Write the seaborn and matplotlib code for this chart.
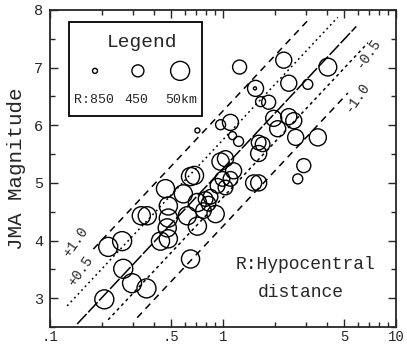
import numpy as np
import pandas as pd
import matplotlib
matplotlib.use("Agg")
import matplotlib.pyplot as plt
from matplotlib.patches import Rectangle
from matplotlib.ticker import FixedLocator, NullFormatter
import seaborn as sns

# ---------------- data ----------------
x_vals = [0.206, 0.217, 0.261, 0.265, 0.298, 0.361,
          0.337, 0.365, 0.435, 0.483, 0.465, 0.483, 0.483, 0.476,
          0.590, 0.622, 0.711, 0.711, 0.649, 0.649, 0.684,
          0.793, 0.847, 0.824, 0.771, 0.906, 0.968, 1.033,
          0.993, 1.104, 0.929, 1.033, 1.151, 1.503, 1.607,
          1.247, 2.244, 4.036, 2.399, 3.090, 1.542, 1.530, 1.648, 1.836,
          0.968, 1.104, 0.711, 1.135, 1.230, 1.963, 2.070, 2.399, 2.564,
          2.630, 3.532, 1.607, 1.694, 1.607, 2.930, 2.704]
magnitudes = [2.98, 3.89, 3.99, 3.51, 3.26, 3.17,
              4.43, 4.43, 3.99, 4.03, 4.90, 4.60, 4.39, 4.22,
              4.81, 4.43, 4.66, 4.25, 3.68, 5.11, 5.13,
              4.72, 4.76, 4.64, 4.52, 4.46, 5.37, 5.42,
              5.07, 5.07, 4.95, 4.92, 5.21, 5.00, 5.00,
              7.01, 7.13, 7.01, 6.73, 6.71, 6.64, 6.64, 6.41, 6.40,
              6.01, 6.05, 5.91, 5.82, 5.72, 6.12, 5.94, 6.15, 6.08,
              5.79, 5.79, 5.70, 5.67, 5.51, 5.30, 5.07]
distances_km = [50, 50, 50, 50, 50, 50,
                100, 100, 100, 100, 100, 100, 100, 100,
                100, 100, 100, 100, 100, 100, 100,
                300, 300, 300, 250, 150, 150, 220,
                300, 300, 300, 300, 220, 220, 220,
                336, 220, 120, 220, 565, 220, 960, 565, 336,
                565, 220, 850, 680, 565, 220, 220, 220, 220,
                220, 160, 300, 300, 220, 336, 565]

legend_distances = [850, 450, 50]
legend_labels = ["R:850", "450", "50km"]

# reference relation M = a + b*log10(x) and offsets
rel_a = 5.25
rel_b = 3.2
line_offsets = [0.0, 0.5, -0.5, 1.0, -1.0]
line_x_start = [0.1436, 0.1256, 0.2168, 0.178, 0.319]
line_x_end = [5.89, 4.61, 6.89, 3.21, 5.27]
line_label_text = ["", "+0.5", "-0.5", "+1.0", "-1.0"]

x_ticks = [0.1, 0.5, 1, 5, 10]
x_tick_labels = [".1", ".5", "1", "5", "10"]
y_ticks = [3, 4, 5, 6, 7, 8]

# ---------------- style ----------------
sns.set_style("ticks")
plt.rcParams['font.family'] = ['Liberation Mono', 'DejaVu Sans Mono']

DPI = 100
fig = plt.figure(figsize=(4.07, 3.46), dpi=DPI)
ax = fig.add_axes([0.1229, 0.0549, 0.8501, 0.9162])


def marker_area(R):
    r_px = 9.94 - 0.00875 * R
    d_pt = 2 * r_px * 72.0 / DPI
    return d_pt ** 2


df = pd.DataFrame({"x": x_vals, "M": magnitudes, "R": distances_km})
sizes = {R: marker_area(R) for R in sorted(set(distances_km))}

sns.scatterplot(data=df, x="x", y="M", size="R", sizes=sizes,
                facecolors="none", edgecolor="black", linewidth=1.0,
                legend=False, ax=ax, zorder=3)

# reference lines
styles = {0.0: (0, (9, 1.5)), 0.5: (0, (1.2, 2.2)), -0.5: (0, (2, 2.2)),
          1.0: (0, (4.5, 3.5)), -1.0: (0, (4.5, 3.5))}
for off, xs, xe in zip(line_offsets, line_x_start, line_x_end):
    xx = np.array([xs, xe])
    yy = rel_a + rel_b * np.log10(xx) + off
    ax.plot(xx, yy, color="black", lw=1.1, linestyle=styles[off], zorder=2)

ax.set_xscale("log")
ax.set_xlim(0.1, 10)
ax.set_ylim(2.5, 8)

ax.xaxis.set_major_locator(FixedLocator(x_ticks))
ax.set_xticklabels(x_tick_labels)
minor_x = [v * d for d in (0.1, 1) for v in range(2, 10)]
ax.xaxis.set_minor_locator(FixedLocator(minor_x))
ax.xaxis.set_minor_formatter(NullFormatter())
ax.set_yticks(y_ticks)
ax.set_yticklabels([str(v) for v in y_ticks])
ax.yaxis.set_minor_locator(FixedLocator(np.arange(2.5, 8.0, 0.5)))

ax.tick_params(which="both", direction="in", top=True, right=True,
               labelsize=11, width=1.0, pad=5)
ax.tick_params(axis="x", which="major", labelsize=10, pad=2)
ax.tick_params(which="major", length=6)
ax.tick_params(which="minor", length=3.5)
for sp in ax.spines.values():
    sp.set_linewidth(1.3)
    sp.set_visible(True)

ax.set_xlabel("")
ax.set_ylabel("JMA Magnitude", fontsize=15, labelpad=6)

# line labels
lab_pos = {"+1.0": (0.075, 0.268), "+0.5": (0.087, 0.177),
           "-0.5": (0.919, 0.864), "-1.0": (0.887, 0.726)}
for t in line_label_text:
    if t:
        px, py = lab_pos[t]
        ax.text(px, py, t, transform=ax.transAxes, rotation=55,
                ha="center", va="center", fontsize=10)

# legend box
ax.add_patch(Rectangle((0.055, 0.666), 0.384, 0.296, transform=ax.transAxes,
                       facecolor="white", edgecolor="black", lw=1.3, zorder=4))
ax.text(0.266, 0.896, "Legend", transform=ax.transAxes, ha="center",
        va="center", fontsize=14, zorder=5)
leg_x = [0.130, 0.254, 0.376]
ax.scatter(leg_x, [0.808] * 3, s=[marker_area(R) for R in legend_distances],
           facecolors="none", edgecolors="black", linewidths=1.0,
           transform=ax.transAxes, zorder=5, clip_on=False)
lab_x = [0.128, 0.251, 0.380]
for lx, t in zip(lab_x, legend_labels):
    ax.text(lx, 0.716, t, transform=ax.transAxes, ha="center", va="center",
            fontsize=9.5, zorder=5)

ax.text(0.737, 0.196, "R:Hypocentral", transform=ax.transAxes,
        ha="center", va="center", fontsize=13)
ax.text(0.725, 0.110, "distance", transform=ax.transAxes,
        ha="center", va="center", fontsize=13)

fig.savefig("out.png", dpi=DPI)
